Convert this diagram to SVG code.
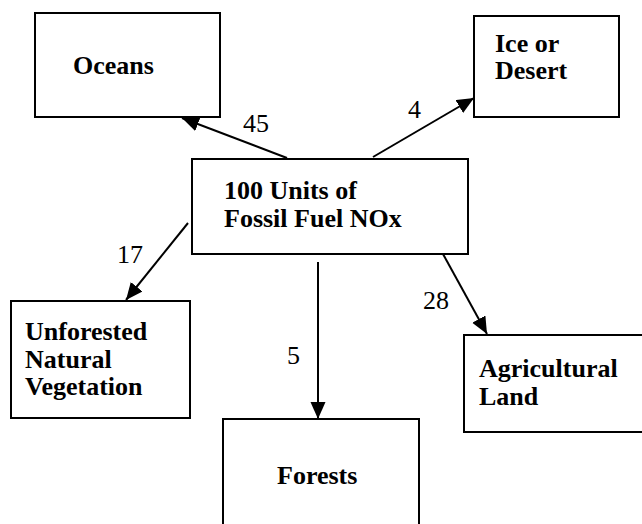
<svg xmlns="http://www.w3.org/2000/svg" width="642" height="524" viewBox="0 0 642 524">
  <style>
    .box { fill: #ffffff; stroke: #000000; stroke-width: 2; }
    .label { font-family: "Liberation Serif", "Times New Roman", serif; font-weight: bold; font-size: 26px; fill: #000000; }
    .num { font-family: "Liberation Serif", "Times New Roman", serif; font-size: 26px; fill: #000000; }
    .conn { stroke: #000000; stroke-width: 2; fill: none; marker-end: url(#arrow); }
  </style>
  <defs>
    <marker id="arrow" markerUnits="userSpaceOnUse" markerWidth="18" markerHeight="16" refX="17" refY="7.5" orient="auto">
      <path d="M0,0 L17,7.5 L0,15 z" fill="#000000"/>
    </marker>
  </defs>
  <rect width="642" height="524" fill="#ffffff"/>

  <g id="connectors">
    <line class="conn" x1="287" y1="158" x2="182" y2="118"/>
    <line class="conn" x1="373" y1="157" x2="474" y2="98"/>
    <line class="conn" x1="188" y1="223" x2="126" y2="300"/>
    <line class="conn" x1="318" y1="262" x2="318" y2="419"/>
    <line class="conn" x1="443" y1="254" x2="487" y2="334"/>
    <text class="num" x="243" y="132">45</text>
    <text class="num" x="408" y="118">4</text>
    <text class="num" x="117" y="263">17</text>
    <text class="num" x="287" y="364">5</text>
    <text class="num" x="423" y="309">28</text>
  </g>

  <g id="oceans">
    <rect class="box" x="35" y="13" width="185" height="104"/>
    <text class="label" x="73" y="74">Oceans</text>
  </g>

  <g id="ice-desert">
    <rect class="box" x="474" y="16" width="145" height="101"/>
    <text class="label" x="495" y="52">Ice or</text>
    <text class="label" x="495" y="79">Desert</text>
  </g>

  <g id="fossil-fuel">
    <rect class="box" x="192" y="159" width="276" height="95"/>
    <text class="label" x="224" y="199">100 Units of</text>
    <text class="label" x="224" y="227">Fossil Fuel NOx</text>
  </g>

  <g id="unforested">
    <rect class="box" x="11" y="301" width="179" height="117"/>
    <text class="label" x="25" y="340">Unforested</text>
    <text class="label" x="25" y="368">Natural</text>
    <text class="label" x="25" y="395">Vegetation</text>
  </g>

  <g id="agricultural">
    <rect class="box" x="464" y="335" width="200" height="97"/>
    <text class="label" x="479" y="377">Agricultural</text>
    <text class="label" x="479" y="405">Land</text>
  </g>

  <g id="forests">
    <rect class="box" x="223" y="419" width="196" height="130"/>
    <text class="label" x="277" y="484">Forests</text>
  </g>
</svg>
